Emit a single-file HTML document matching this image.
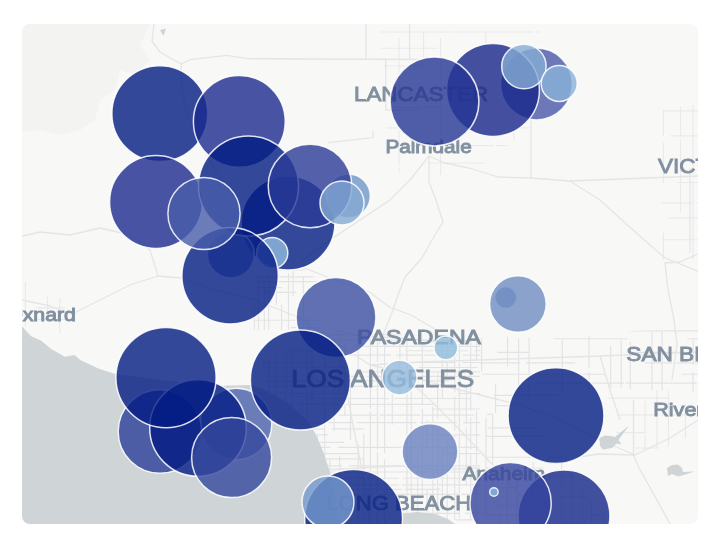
<!DOCTYPE html>
<html><head><meta charset="utf-8"><title>Map</title>
<style>
html,body{margin:0;padding:0;background:#fff;}
body{width:714px;height:542px;overflow:hidden;position:relative;font-family:"Liberation Sans",sans-serif;}
#map{position:absolute;left:22px;top:24px;width:676px;height:500px;border-radius:8px;overflow:hidden;background:#f8f8f6;}
#map svg{position:absolute;left:0;top:0;display:block;}
.lb{font-family:"Liberation Sans",sans-serif;font-weight:normal;fill:#8190a0;stroke:#8190a0;stroke-width:0.9;}
</style></head><body>
<div id="map">
<svg width="676" height="500" viewBox="22 24 676 500">

<path fill="#f3f3f1" d="M22 24 H150 L140 45 L150 60 L135 75 L120 70 L115 90 L100 100 L95 120 L80 130 L60 135 L40 130 L22 132 Z"/>
<g id="roads" fill="none" stroke="#e3e3e5" stroke-width="1.15">
<clipPath id="cp_la"><polygon points="300,345 335,332 480,338 480,524 330,524 325,470 305,420 268,392 262,360"/></clipPath><path clip-path="url(#cp_la)" d="M263.0 326.9H330.3M334.6 326.9H383.4M387.4 326.9H414.9M415.4 326.9H446.3M453.0 326.9H482.0M322.7 334.6H403.5M404.7 334.6H437.3M443.8 334.6H480.6M271.0 340.1H300.0M301.7 340.1H370.9M373.4 340.1H436.5M354.7 346.4H443.4M446.7 346.4H482.0M273.4 350.7H348.1M405.2 350.7H467.9M474.6 350.7H482.0M347.7 355.1H391.2M396.5 355.1H423.0M424.3 355.1H456.9M463.1 355.1H482.0M261.6 362.5H315.8M403.4 362.5H455.4M462.4 362.5H482.0M264.7 367.5H321.2M323.3 367.5H348.6M418.8 367.5H477.4M360.1 371.9H410.6M411.4 371.9H477.6M478.2 371.9H482.0M260.0 376.3H294.8M329.3 376.3H364.0M366.8 376.3H415.4M422.2 376.3H482.0M262.0 380.8H309.3M315.9 380.8H351.4M359.0 380.8H418.4M422.7 380.8H449.5M263.3 386.3H338.5M344.7 386.3H391.2M274.8 393.5H314.5M317.4 393.5H344.3M458.0 393.5H482.0M309.4 398.5H389.0M394.3 398.5H471.2M263.6 404.4H339.9M346.3 404.4H434.4M432.0 409.0H479.8M338.5 415.1H377.2M379.5 415.1H420.2M422.3 415.1H474.5M481.8 415.1H482.0M268.4 422.6H353.1M357.3 422.6H416.3M419.9 422.6H456.8M463.2 422.6H482.0M266.5 428.8H325.2M331.5 428.8H363.4M481.2 428.8H482.0M273.9 434.8H328.3M425.3 434.8H482.0M276.8 442.4H310.7M314.3 442.4H344.0M279.1 447.4H329.9M337.9 447.4H417.0M420.4 447.4H478.9M268.8 453.6H295.0M300.0 453.6H358.3M443.2 453.6H482.0M321.6 458.8H363.4M261.7 465.9H342.3M349.2 465.9H403.7M408.2 465.9H482.0M264.8 472.0H296.9M297.3 472.0H335.4M337.8 472.0H412.2M416.2 472.0H452.8M452.9 472.0H482.0M320.5 478.2H398.7M402.7 478.2H481.9M332.6 484.8H398.9M401.7 484.8H430.2M430.8 484.8H482.0M360.7 489.3H401.4M405.1 489.3H440.3M279.3 494.4H324.4M324.4 494.4H374.2M378.3 494.4H416.3M416.4 494.4H458.5M461.7 494.4H482.0M350.1 506.7H384.2M264.6 513.4H291.6M402.0 513.4H458.9M465.2 513.4H482.0M261.3 519.9H334.2M455.8 519.9H482.0M263.7 337.9V367.9M263.7 369.9V443.2M263.7 447.8V473.6M268.9 335.3V390.5M268.9 391.5V474.6M268.9 482.4V526.0M276.1 344.4V398.6M276.1 400.3V486.7M276.1 491.4V525.6M280.8 449.0V475.6M280.8 479.6V526.0M286.2 331.3V410.9M286.2 416.9V496.5M291.8 332.9V422.8M291.8 425.7V478.5M291.8 512.8V526.0M297.8 470.2V526.0M302.2 399.1V442.7M302.2 450.1V483.4M307.3 338.1V382.7M307.3 385.8V421.7M307.3 423.4V507.3M312.0 328.8V359.7M312.0 360.5V401.0M312.0 491.5V526.0M317.4 434.9V473.9M317.4 475.9V526.0M324.7 342.5V368.9M324.7 374.6V457.8M324.7 462.5V487.5M329.8 327.2V362.2M329.8 459.0V526.0M334.1 385.9V430.7M334.1 499.9V526.0M339.7 329.5V393.5M339.7 456.1V526.0M344.8 344.2V415.0M344.8 525.1V526.0M350.5 382.4V440.3M358.2 334.9V372.1M358.2 444.8V495.4M358.2 503.2V526.0M363.8 433.4V518.9M370.4 332.6V381.9M370.4 383.2V408.4M370.4 411.2V498.3M370.4 506.0V526.0M377.5 333.6V361.9M377.5 364.8V449.6M377.5 452.5V526.0M384.6 340.3V368.0M384.6 368.5V453.3M384.6 459.3V526.0M392.3 381.9V424.8M392.3 523.0V526.0M399.9 344.1V394.2M406.9 337.1V383.5M406.9 386.3V462.2M406.9 463.8V526.0M411.2 389.3V478.5M411.2 479.2V510.4M411.2 516.1V526.0M417.7 452.6V514.5M417.7 520.4V526.0M422.4 342.7V405.3M422.4 408.4V497.9M427.0 420.1V447.7M427.0 490.6V526.0M432.8 406.6V470.4M432.8 472.1V521.1M432.8 522.7V526.0M437.7 373.0V418.3M437.7 424.6V485.3M437.7 486.1V526.0M442.3 328.3V398.5M442.3 448.2V510.1M447.2 339.6V377.8M447.2 440.8V523.2M447.2 524.5V526.0M454.7 326.8V392.2M454.7 396.3V430.7M454.7 434.9V520.1M459.3 343.9V432.3M459.3 432.7V517.9M466.3 387.4V424.3M466.3 427.5V486.1M470.7 336.2V410.5M470.7 417.2V449.8M470.7 454.2V520.0M470.7 523.4V526.0M476.5 333.8V360.3M476.5 410.7V465.5M476.5 469.3V501.3M476.5 504.7V526.0M480.8 374.3V432.5"/>
<clipPath id="cp_sfv"><polygon points="250,272 300,266 320,282 320,330 250,330"/></clipPath><path clip-path="url(#cp_sfv)" d="M263.8 270.0H322.0M251.2 276.9H322.0M258.0 281.6H322.0M254.4 287.6H281.8M263.7 292.4H296.2M254.3 320.2H279.4M280.6 320.2H322.0M290.6 327.6H315.8M316.6 327.6H322.0M249.2 276.5V332.0M254.3 305.2V332.0M258.5 276.9V332.0M264.3 282.7V332.0M268.7 274.6V326.0M268.7 326.5V332.0M276.3 266.8V304.8M281.6 304.4V332.0M288.5 273.3V332.0M293.1 268.6V296.2M303.4 276.8V332.0M307.6 317.1V332.0"/>
<clipPath id="cp_sgv"><polygon points="480,338 700,328 700,392 600,388 520,402 480,420"/></clipPath><path clip-path="url(#cp_sgv)" d="M492.5 330.8H554.6M556.3 330.8H621.7M629.0 330.8H663.4M664.3 330.8H700.0M554.4 338.7H627.3M687.2 338.7H700.0M496.9 352.4H528.8M634.8 352.4H678.4M679.2 352.4H700.0M478.4 362.9H520.1M525.8 362.9H574.8M645.2 362.9H672.2M675.7 362.9H700.0M482.3 374.2H563.4M569.9 374.2H606.0M682.2 374.2H700.0M537.5 383.1H623.9M625.6 383.1H696.1M697.0 383.1H700.0M493.7 395.4H559.6M614.1 395.4H696.9M495.7 405.6H535.9M619.3 405.6H667.0M486.8 414.4H562.0M620.0 414.4H657.4M663.1 414.4H700.0M481.6 336.4V371.9M495.6 384.4V422.0M507.6 328.1V366.6M518.6 338.6V393.8M529.1 337.5V411.2M551.9 415.0V422.0M562.3 339.5V422.0M575.1 390.9V422.0M589.0 336.4V368.0M589.0 372.3V422.0M602.2 389.8V422.0M610.7 345.7V393.8M610.7 396.0V422.0M621.2 340.0V387.9M630.3 342.0V392.5M651.9 331.9V392.5M662.1 331.1V383.8M662.1 383.8V422.0M693.1 338.7V364.6M693.1 372.3V422.0"/>
<clipPath id="cp_oc"><polygon points="480,420 520,402 570,470 610,524 480,524"/></clipPath><path clip-path="url(#cp_oc)" d="M493.5 402.1H541.0M548.3 402.1H612.0M568.4 411.7H612.0M550.8 420.9H593.0M594.1 420.9H612.0M487.8 427.9H545.2M486.4 436.3H573.8M578.9 436.3H612.0M485.3 457.2H541.2M547.3 457.2H586.0M486.1 468.0H543.8M484.3 476.1H528.8M533.9 476.1H609.8M488.9 487.1H517.1M560.8 496.7H612.0M493.3 505.5H524.8M483.2 514.8H527.8M590.8 514.8H612.0M560.2 521.8H586.1M478.9 412.9V451.7M478.9 478.1V526.0M485.9 400.4V472.1M485.9 478.0V515.2M492.7 412.6V483.7M499.0 514.8V526.0M507.3 466.2V526.0M517.0 466.0V526.0M533.2 462.0V526.0M543.9 405.7V430.8M561.6 411.1V487.9M561.6 493.9V526.0M571.6 409.3V447.7M571.6 453.7V526.0M582.2 415.4V455.6M582.2 462.8V526.0M591.7 403.8V441.3M591.7 446.9V495.5M591.7 498.7V526.0M603.4 445.7V480.8M603.4 483.6V526.0"/>
<clipPath id="cp_riv"><polygon points="600,388 700,392 700,440 640,452 606,425"/></clipPath><path clip-path="url(#cp_riv)" stroke="#eaeaeb" d="M607.7 398.1H669.6M617.3 414.8H658.8M660.4 414.8H697.1M616.2 432.6H645.4M605.9 448.0H660.0M667.7 448.0H700.0M645.1 401.2V433.0M645.1 435.1V454.0M656.9 388.9V454.0M668.4 386.7V454.0M685.4 403.8V437.9M699.0 392.8V454.0"/>
<clipPath id="cp_lan"><polygon points="380,30 540,30 540,120 470,175 400,175 380,120"/></clipPath><path clip-path="url(#cp_lan)" stroke="#eaeaeb" d="M379.1 32.0H450.5M451.7 32.0H533.3M536.6 32.0H542.0M381.4 48.2H438.3M383.7 66.0H425.5M525.2 66.0H542.0M436.7 79.2H514.2M386.7 93.8H471.0M475.6 93.8H509.5M515.7 93.8H542.0M390.2 107.3H447.4M520.3 107.3H542.0M386.2 127.8H458.1M518.3 127.8H542.0M395.4 145.6H437.7M444.4 145.6H493.3M496.2 145.6H542.0M427.7 163.0H509.0M399.0 37.9V96.3M399.0 128.7V165.6M399.0 167.6V178.0M423.6 31.9V58.1M440.6 37.9V95.4M440.6 96.4V147.8M440.6 152.5V178.0M485.8 32.8V79.6M485.8 171.2V178.0M513.8 46.7V87.9M513.8 93.0V141.6M513.8 142.2V178.0"/>
<clipPath id="cp_vic"><polygon points="660,100 700,100 700,260 660,260"/></clipPath><path clip-path="url(#cp_vic)" stroke="#eaeaeb" d="M663.3 110.8H700.0M670.4 135.9H700.0M677.1 182.5H700.0M661.0 202.9H694.0M696.4 202.9H700.0M668.9 217.9H700.0M662.0 239.7H700.0M667.4 261.1H700.0M663.4 109.7V135.5M663.4 142.4V182.9M663.4 232.7V262.0M680.5 106.8V135.8M680.5 139.3V212.2M693.1 105.0V173.9M693.1 180.7V259.1"/>
<clipPath id="cp_ox"><polygon points="22,280 60,285 70,330 40,340 22,326"/></clipPath><path clip-path="url(#cp_ox)" stroke="#eaeaeb" d="M35.7 307.8H72.0M29.2 319.5H72.0M25.3 281.7V326.4M25.3 331.0V342.0M47.5 296.2V321.9M59.8 298.0V342.0M71.0 285.2V342.0"/>
</g>
<g id="major" fill="none" stroke="#e5e5e6" stroke-width="1.3" stroke-linejoin="round">
<path d="M429 156 L445 163 L469 168 L498 177 L531 178 L570 181 L698 176"/>
<path d="M570 181 L600 200 L624 222 L650 245 L665 258 L700 272"/>
<path d="M531 120 V178"/>
<path d="M429 156 L429 182 L436 200 L443 222 L432 240 L422 258 L405 277 L398 295 L393 310 L385 330 L379 344"/>
<path d="M690 168 V253"/>
<path d="M700 253 L680 262 L665 263 L668 290 L674 320 L677 344 L672 380"/>
<path d="M22 300 L50 306 L72 314 L100 300 L130 285 L158 276 L182 278 L215 290 L255 300 L300 318 L340 345 L370 365 L400 372"/>
<path d="M154 24 L152 41 L160 52 L181 64 L182 90 L186 110 L196 135 L215 170 L240 210 L268 248 L290 262"/>
<path d="M181 64 L190 59.7 L227 55.3 L247 58.7 L420 59.5"/>
<path d="M366 24 V58.7 M409.6 24 V60 M385.7 58.7 V110 H420"/>
<path d="M328 142.7 L373 137.6 V131"/>
<path d="M300 262 L330 240 L360 220 L390 200 L410 180 L429 156"/>
<path d="M299.7 266 L335 280 L369.5 292 L390 307.5 L411 315 L440 332"/>
<path d="M158 276 L150 250 L130 235 L100 228 L70 235 L40 232 L22 236"/>
<path d="M340 345 L345 380 L352 420 L362 470 L370 524"/>
<path d="M400 372 L430 400 L460 430 L490 462 L520 495 L545 524"/>
<path d="M370 365 L420 362 L480 360 L540 358 L600 356 L700 352"/>
<path d="M400 372 L440 385 L480 395 L520 405 L560 420 L600 440 L635 455"/>
<path d="M698 420 L670 438 L635 455 L598 454 L580 457"/>
<path d="M633.5 400 V455 L639 468 L657 500 L670 524"/>
<path d="M325 470 L360 468 L400 466 L440 470 L480 468"/>
<path d="M335 330 L360 336 L400 338 L440 342 L480 340"/>
<path d="M600 356 L610 390 L620 420"/>
<path d="M22 345 L40 348"/>
</g>
<g id="water" fill="#cfd4d7">
<path d="M22 326.4 L31.2 336.2 L41 340.4 L50.8 348.8 L64.8 356.7 L74.6 355 L80.2 360 L98.4 368.4 L115.2 374 L160 380 L215 386 L251 385 C275 392 300 410 311 426 C320 440 326 460 331 475 L336 500 L338 524 L22 524 Z"/>
<path d="M400 524 L401 514 L417 512 L435 514 L448 519 L455 524 Z"/>
<path d="M599.5 438 L605 435.5 L611 436 L615 437 L629 425.5 L618.5 440 L621.5 444.5 L616.5 443.5 L612 448 L603 449.5 L600 446 Z"/>
<path d="M160 30 L166 28.5 L163.5 36 Z"/>
<path d="M667 468 L672 465 L678 464.5 L682 468 L683 472 L694.5 471.5 L684 475 L678 476.5 L672 474 L668 476 Z"/>
</g>
<g id="labels">
<text class="lb" font-size="21" transform="translate(354.01 101.40) scale(1.0659 1)">LANCASTER</text>
<text class="lb" font-size="17.5" transform="translate(385.44 152.50) scale(1.1838 1)">Palmdale</text>
<text class="lb" font-size="19.5" transform="translate(356.95 343.90) scale(1.1846 1)">PASADENA</text>
<text class="lb" font-size="24.7" transform="translate(291.60 386.90) scale(1.0650 1)">LOS ANGELES</text>
<text class="lb" font-size="20.5" transform="translate(326.23 509.70) scale(1.0786 1)">LONG BEACH</text>
<text class="lb" font-size="17.5" transform="translate(462.50 480.20) scale(1.1974 1)">Anaheim</text>
<text class="lb" font-size="20" transform="translate(626.28 361.40) scale(1.1321 1)">SAN BERNARDINO</text>
<text class="lb" font-size="19" transform="translate(653.28 416.10) scale(1.1340 1)">Riverside</text>
<text class="lb" font-size="21" transform="translate(657.89 173.00) scale(1.0729 1)">VICTORVILLE</text>
<text class="lb" font-size="17.5" transform="translate(6.18 320.80) scale(1.2161 1)">Oxnard</text>
</g>
<g id="circles" stroke="#fff" stroke-opacity="0.85" stroke-width="1.5">
<circle cx="159.8" cy="113.7" r="47.9" fill="rgb(2,27,131)" fill-opacity="0.8"/>
<circle cx="239.3" cy="121.4" r="45.9" fill="rgb(27,42,142)" fill-opacity="0.8"/>
<circle cx="156" cy="202" r="46.4" fill="rgb(27,42,142)" fill-opacity="0.8"/>
<circle cx="288" cy="223" r="46.9" fill="rgb(2,27,131)" fill-opacity="0.8"/>
<circle cx="230.9" cy="254.5" r="23.4" fill="rgb(92,129,188)" fill-opacity="0.8"/>
<circle cx="248.5" cy="186" r="50" fill="rgb(2,27,131)" fill-opacity="0.8"/>
<circle cx="272.2" cy="253" r="15.6" fill="#93bcdd" fill-opacity="0.8"/>
<circle cx="348.4" cy="196" r="21.9" fill="rgb(110,150,201)" fill-opacity="0.8"/>
<circle cx="310" cy="186" r="41.8" fill="rgb(42,59,151)" fill-opacity="0.8"/>
<circle cx="342" cy="203" r="22" fill="#85a9d2" fill-opacity="0.8"/>
<circle cx="230.1" cy="275.8" r="48.2" fill="rgb(2,27,131)" fill-opacity="0.8"/>
<circle cx="204" cy="213.5" r="36.1" fill="rgb(71,93,170)" fill-opacity="0.8"/>
<circle cx="336" cy="317.5" r="39.9" fill="rgb(58,77,162)" fill-opacity="0.8"/>
<circle cx="236" cy="424" r="35.8" fill="rgb(80,102,178)" fill-opacity="0.8"/>
<circle cx="160" cy="431.5" r="41.8" fill="rgb(43,61,152)" fill-opacity="0.8"/>
<circle cx="198" cy="428" r="48.3" fill="rgb(2,27,131)" fill-opacity="0.8"/>
<circle cx="166" cy="377.6" r="50.1" fill="rgb(2,27,131)" fill-opacity="0.8"/>
<circle cx="231.6" cy="457.6" r="40.0" fill="rgb(52,71,158)" fill-opacity="0.8"/>
<circle cx="300.4" cy="380" r="50.0" fill="rgb(2,27,131)" fill-opacity="0.8"/>
<circle cx="353.6" cy="518.4" r="48.9" fill="rgb(2,27,131)" fill-opacity="0.8"/>
<circle cx="328" cy="502" r="26" fill="#7498cc" fill-opacity="0.8"/>
<circle cx="430" cy="451.6" r="27.9" fill="rgb(104,128,190)" fill-opacity="0.8"/>
<circle cx="556" cy="415.7" r="47.9" fill="rgb(2,27,131)" fill-opacity="0.8"/>
<circle cx="564" cy="516" r="45.9" fill="rgb(19,36,137)" fill-opacity="0.8"/>
<circle cx="510.6" cy="503" r="40.6" fill="rgb(51,67,158)" fill-opacity="0.8"/>
<circle cx="493.9" cy="491.95" r="4.25" fill="rgb(138,183,218)" fill-opacity="0.8"/>
<circle cx="505.8" cy="297.6" r="11" fill="rgb(110,140,194)" fill-opacity="0.8"/>
<circle cx="517.9" cy="304" r="28.3" fill="rgb(110,140,194)" fill-opacity="0.8"/>
<circle cx="445.9" cy="347.8" r="11.9" fill="rgb(144,188,220)" fill-opacity="0.8"/>
<circle cx="399.6" cy="377.6" r="17.4" fill="rgb(148,186,221)" fill-opacity="0.8"/>
<circle cx="536.4" cy="84" r="35.9" fill="rgb(72,88,168)" fill-opacity="0.8"/>
<circle cx="493" cy="90" r="46.4" fill="rgb(23,38,138)" fill-opacity="0.8"/>
<circle cx="434.5" cy="101.5" r="44.4" fill="rgb(36,52,148)" fill-opacity="0.8"/>
<circle cx="523.9" cy="66.5" r="22.2" fill="#86acd4" fill-opacity="0.8"/>
<circle cx="559.2" cy="83.4" r="18" fill="#8ab2d8" fill-opacity="0.8"/>
</g>
</svg></div></body></html>
